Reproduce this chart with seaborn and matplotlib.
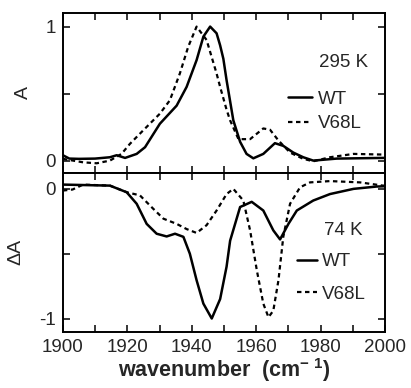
import matplotlib
matplotlib.use("Agg")
import matplotlib.pyplot as plt
import seaborn as sns

# 295 K absorbance spectra (top panel)
wn_wt_295 = [1900, 1902, 1905, 1910, 1914.6, 1916.7, 1919.3, 1922.9, 1925.5, 1930.1, 1935.3,
             1938.4, 1941.5, 1943.6, 1945.7, 1947.7, 1948.8, 1949.8, 1950.8, 1952.9, 1955, 1957,
             1959.1, 1962.2, 1965.8, 1968.4, 1971.5, 1974.6, 1977.7, 1985, 1999.4, 2000]
a_wt_295 = [0.04, 0.015, 0.013, 0.015, 0.025, 0.04, 0.02, 0.05, 0.1, 0.275, 0.41,
            0.55, 0.75, 0.925, 1.0, 0.95, 0.86, 0.76, 0.6, 0.3, 0.14, 0.05,
            0.017, 0.05, 0.13, 0.11, 0.06, 0.025, 0.0, 0.015, 0.02, 0.02]

wn_v68l_295 = [1900, 1906.3, 1910.5, 1914.6, 1918.2, 1920.8, 1924.9, 1930.1, 1933.2, 1936.3,
               1938.9, 1941.5, 1944.6, 1947.7, 1948.8, 1950.8, 1951.9, 1954.5, 1958.1, 1962.2,
               1964.3, 1966.9, 1970.5, 1974.6, 1977.7, 1982.9, 1990.2, 1999.4, 2000]
a_v68l_295 = [0.013, -0.013, -0.02, 0.0, 0.05, 0.125, 0.225, 0.35, 0.45, 0.65,
              0.85, 1.0, 0.9, 0.65, 0.55, 0.38, 0.3, 0.16, 0.16, 0.24,
              0.23, 0.15, 0.06, 0.013, -0.005, 0.025, 0.05, 0.045, 0.045]

# 74 K difference spectra (bottom panel)
wn_wt_74 = [1900, 1914.6, 1919.8, 1922.9, 1926, 1929.1, 1932.2, 1934.8, 1937.4, 1939.4, 1941.5,
            1943.6, 1946.2, 1948.8, 1950.8, 1951.9, 1955, 1958.6, 1962.2, 1965.3, 1967.4,
            1970, 1972.6, 1977.7, 1982.9, 1990.2, 1997.4, 2000]
da_wt_74 = [0.033, 0.025, -0.026, -0.115, -0.27, -0.346, -0.367, -0.346, -0.37, -0.5, -0.705,
            -0.885, -1.0, -0.85, -0.6, -0.4, -0.14, -0.1, -0.167, -0.32, -0.39,
            -0.27, -0.167, -0.09, -0.04, 0.0, 0.018, 0.02]

wn_v68l_74 = [1900, 1903, 1906.3, 1914.6, 1919.8, 1923.9, 1928.1, 1931.2, 1935.3, 1938.4, 1941.5,
              1944.6, 1947.7, 1950.8, 1952.9, 1956, 1958.1, 1960.2, 1962.2, 1963.8, 1965.3,
              1966.9, 1968.4, 1970.5, 1973.6, 1976.7, 1982.9, 1992.2, 1999.4, 2000]
da_v68l_74 = [-0.013, -0.005, 0.033, 0.025, -0.026, -0.05, -0.155, -0.23, -0.27, -0.31, -0.34,
              -0.28, -0.167, -0.04, 0.0, -0.09, -0.32, -0.63, -0.885, -0.99, -0.94,
              -0.705, -0.37, -0.115, 0.012, 0.05, 0.06, 0.05, 0.025, 0.025]

x_ticks = list(range(1900, 2001, 10))
x_labels = ["1900", "", "1920", "", "1940", "", "1960", "", "1980", "", "2000"]

sns.set_style("ticks")
plt.rcParams["font.family"] = ["Liberation Sans", "DejaVu Sans"]
fs = 13.5

dotted = (0, (2.0, 1.6))

fig, (ax1, ax2) = plt.subplots(2, 1, figsize=(4.11, 3.88), dpi=100, sharex=True)
fig.subplots_adjust(left=0.153, right=0.937, top=0.966, bottom=0.144, hspace=0)

sns.lineplot(x=wn_wt_295, y=a_wt_295, ax=ax1, color="black", lw=1.8, sort=False,
             estimator=None, label="WT")
sns.lineplot(x=wn_v68l_295, y=a_v68l_295, ax=ax1, color="black", lw=1.6, ls=dotted,
             sort=False, estimator=None, label="V68L")
sns.lineplot(x=wn_wt_74, y=da_wt_74, ax=ax2, color="black", lw=1.8, sort=False,
             estimator=None, label="WT")
sns.lineplot(x=wn_v68l_74, y=da_v68l_74, ax=ax2, color="black", lw=1.6, ls=dotted,
             sort=False, estimator=None, label="V68L")

ax1.set_ylim(-0.09, 1.1)
ax1.set_yticks([0, 0.5, 1])
ax1.set_yticklabels(["0", "", "1"])
ax1.set_ylabel("A", fontsize=14)
ax1.yaxis.set_label_coords(-0.096, 0.5)

ax2.set_ylim(-1.105, 0.125)
ax2.set_yticks([-1, -0.5, 0])
ax2.set_yticklabels(["-1", "", "0"])
ax2.set_ylabel("ΔA", fontsize=14)
ax2.yaxis.set_label_coords(-0.118, 0.5)

ax2.set_xlim(1900, 2000)
ax2.set_xticks(x_ticks)
ax2.set_xticklabels(x_labels)
ax2.set_xlabel("wavenumber  (cm$^{\\mathregular{-\\ 1}}$)", fontweight="bold", fontsize=15.5,
               labelpad=0)

for ax in (ax1, ax2):
    ax.tick_params(direction="in", length=5, width=1.3, top=True, right=True, labelsize=fs,
                   pad=5)
    for sp in ax.spines.values():
        sp.set_linewidth(1.4)
        sp.set_color("black")

ax1.text(0.87, 0.69, "295 K", transform=ax1.transAxes, ha="center", va="center", fontsize=fs)
ax2.text(0.87, 0.64, "74 K", transform=ax2.transAxes, ha="center", va="center", fontsize=fs)

ax1.legend(loc="center left", bbox_to_anchor=(0.699, 0.384), frameon=False, handlelength=1.28,
           handletextpad=0.32, labelspacing=0.4, borderpad=0, borderaxespad=0, fontsize=fs)
ax2.legend(loc="center left", bbox_to_anchor=(0.727, 0.34), frameon=False, handlelength=1.07,
           handletextpad=0.27, labelspacing=0.8, borderpad=0, borderaxespad=0, fontsize=fs)

fig.savefig("out.png", dpi=100)
